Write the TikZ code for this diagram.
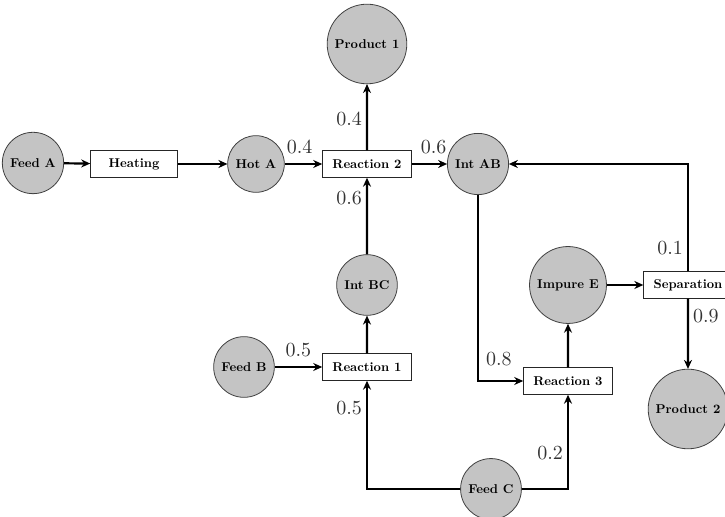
\documentclass[tikz,border=0pt]{standalone}
\usetikzlibrary{arrows.meta}
\begin{document}
\begin{tikzpicture}[x=0.5pt,y=-0.5pt,
  stream/.style={circle,draw=black!75,line width=0.4pt,fill=black!23,inner sep=4.7pt,
    scale=0.64,transform shape,font=\bfseries},
  unit/.style={rectangle,draw=black!85,line width=0.4pt,fill=white,minimum width=68pt,
    minimum height=21pt,inner xsep=7.8pt,scale=0.64,transform shape,font=\bfseries},
  flow/.style={line width=1.1pt,-{Stealth[length=4.5pt,width=4pt]}},
  frac/.style={font=\normalsize,text=black!80,inner sep=2pt}]
\useasboundingbox (0,0) rectangle (725,517);
% streams and process units
\node[stream] (feedA) at (33,163) {Feed A};
\node[unit]   (heat)  at (134,164) {Heating};
\node[stream] (hotA)  at (256,164) {Hot A};
\node[unit]   (r2)    at (367,164) {Reaction 2};
\node[stream] (p1)    at (367,44) {Product 1};
\node[stream] (intAB) at (478,164) {Int AB};
\node[stream] (intBC) at (367,285) {Int BC};
\node[stream] (feedB) at (244,367) {Feed B};
\node[unit]   (r1)    at (367,367) {Reaction 1};
\node[stream] (feedC) at (491,489) {Feed C};
\node[unit]   (r3)    at (568,381) {Reaction 3};
\node[stream] (impE)  at (568,285) {Impure E};
\node[unit]   (sep)   at (688,285) {Separation};
\node[stream] (p2)    at (688,409) {Product 2};
% material flows with split fractions
\draw[flow] (feedA) -- (heat);
\draw[flow] (heat) -- (hotA);
\draw[flow] (hotA) -- node[frac,above=2.5pt,pos=0.4] {0.4} (r2);
\draw[flow] (r2) -- node[frac,left,pos=0.47] {0.4} (p1);
\draw[flow] (r2) -- node[frac,above=2.5pt,pos=0.62] {0.6} (intAB);
\draw[flow] (intBC) -- node[frac,left,pos=0.73] {0.6} (r2);
\draw[flow] (r1) -- (intBC);
\draw[flow] (feedB) -- node[frac,above=2.5pt,pos=0.5] {0.5} (r1);
\draw[flow] (feedC) -| node[frac,left,pos=0.875] {0.5} (r1);
\draw[flow] (feedC) -| node[frac,left,pos=0.69] {0.2} (r3);
\draw[flow] (intAB) |- node[frac,above=5pt,pos=0.73] {0.8} (r3);
\draw[flow] (r3) -- (impE);
\draw[flow] (impE) -- (sep);
\draw[flow] (sep) |- node[frac,left,pos=0.11] {0.1} (intAB);
\draw[flow] (sep) -- node[frac,right,pos=0.25] {0.9} (p2);
\end{tikzpicture}
\end{document}
